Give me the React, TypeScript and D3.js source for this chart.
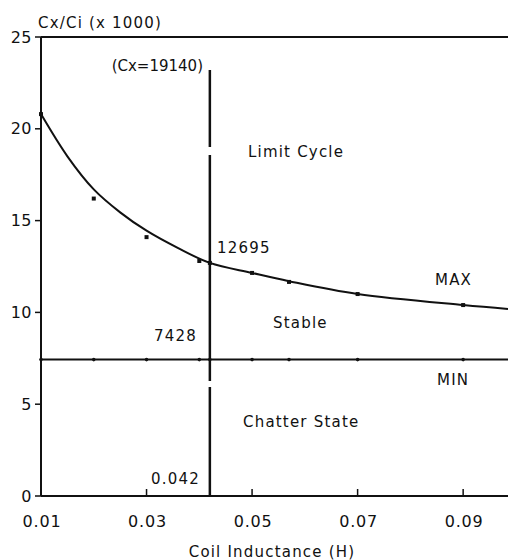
import React from "react";
import * as d3 from "d3";

// measured points (markers)
const maxX = [0.01, 0.02, 0.03, 0.04, 0.042, 0.05, 0.057, 0.07, 0.09];
const maxY = [20.8, 16.2, 14.1, 12.8, 12.695, 12.15, 11.66, 11.0, 10.4];
// fitted MAX curve
const fitX = [0.01, 0.015, 0.02, 0.025, 0.03, 0.036, 0.042, 0.05, 0.057, 0.07, 0.09, 0.0985];
const fitY = [20.8, 18.5, 16.7, 15.45, 14.45, 13.5, 12.695, 12.15, 11.7, 11.0, 10.4, 10.19];
// MIN line points
const minX = [0.01, 0.02, 0.03, 0.04, 0.042, 0.05, 0.057, 0.07, 0.09];
const minValue = 7.428;
const critL = 0.042;
const critTop = 23.2;

const xTicks = [0.01, 0.03, 0.05, 0.07, 0.09];
const yTicks = [0, 5, 10, 15, 20, 25];

const W = 508;
const H = 560;
const FONT = "DejaVu Sans";

const App = () => {
  const x = d3.scaleLinear().domain([0.01, 0.0985]).range([41, 508]);
  const y = d3.scaleLinear().domain([0, 25]).range([496, 37]);

  const fitLine = d3
    .line<number>()
    .x((d, i) => x(fitX[i]))
    .y(d => y(d))
    .curve(d3.curveCatmullRom.alpha(0.5));

  const txt = { fontFamily: FONT, fontSize: 15, fill: "#111", letterSpacing: 1.2 };

  return (
    <svg
      width={W}
      height={H}
      style={{ position: "absolute", left: 0, top: 0, background: "#fff" }}
    >
      {/* frame */}
      <line x1={x(0.01)} x2={W} y1={y(25)} y2={y(25)} stroke="#111" strokeWidth={2} />
      <line x1={x(0.01)} x2={W} y1={y(0)} y2={y(0)} stroke="#111" strokeWidth={2} />
      <line x1={x(0.01)} x2={x(0.01)} y1={y(25)} y2={y(0)} stroke="#111" strokeWidth={2} />

      {/* y ticks */}
      {yTicks.map(t => (
        <g key={"y" + t}>
          <line x1={x(0.01) - 6} x2={x(0.01)} y1={y(t)} y2={y(t)} stroke="#111" strokeWidth={1.5} />
          <text x={32} y={y(t)} dy="0.35em" textAnchor="end" {...txt} fontSize={16} letterSpacing={0.5}>
            {t}
          </text>
        </g>
      ))}

      {/* x ticks */}
      {xTicks.map(t => (
        <g key={"x" + t}>
          <line x1={x(t)} x2={x(t)} y1={y(0)} y2={y(0) - 7} stroke="#111" strokeWidth={1.5} />
          <text x={x(t) + 1} y={521} dy="0.35em" textAnchor="middle" {...txt} fontSize={16} letterSpacing={0.8}>
            {t}
          </text>
        </g>
      ))}

      {/* titles */}
      <text x={38} y={28} {...txt}>Cx/Ci (x 1000)</text>
      <text x={272} y={552} dy="0.35em" textAnchor="middle" {...txt}>
        Coil Inductance (H)
      </text>

      {/* MIN line */}
      <line x1={x(0.01)} x2={W} y1={y(minValue)} y2={y(minValue)} stroke="#111" strokeWidth={2} />
      {minX.map((v, i) => (
        <circle key={"m" + i} cx={x(v)} cy={y(minValue)} r={1.8} fill="#111" />
      ))}

      {/* MAX curve */}
      <path d={fitLine(fitY) || ""} fill="none" stroke="#111" strokeWidth={2} />
      {maxX.map((v, i) => (
        <rect key={"p" + i} x={x(v) - 2} y={y(maxY[i]) - 2} width={4} height={4} fill="#111" />
      ))}

      {/* critical inductance */}
      <line
        x1={x(critL)}
        x2={x(critL)}
        y1={y(critTop)}
        y2={y(0)}
        stroke="#111"
        strokeWidth={2.5}
        strokeDasharray="77 8 226 6 200"
      />

      {/* annotations */}
      <text x={203} y={66} dy="0.35em" textAnchor="end" {...txt} letterSpacing={0}>(Cx=19140)</text>
      <text x={248} y={152} dy="0.35em" {...txt}>Limit Cycle</text>
      <text x={217} y={248} dy="0.35em" {...txt}>12695</text>
      <text x={197} y={336} dy="0.35em" textAnchor="end" {...txt}>7428</text>
      <text x={273} y={323} dy="0.35em" {...txt}>Stable</text>
      <text x={435} y={280} dy="0.35em" {...txt}>MAX</text>
      <text x={437} y={380} dy="0.35em" {...txt}>MIN</text>
      <text x={243} y={422} dy="0.35em" {...txt}>Chatter State</text>
      <text x={200} y={479} dy="0.35em" textAnchor="end" {...txt}>0.042</text>
    </svg>
  );
};

export default App;
